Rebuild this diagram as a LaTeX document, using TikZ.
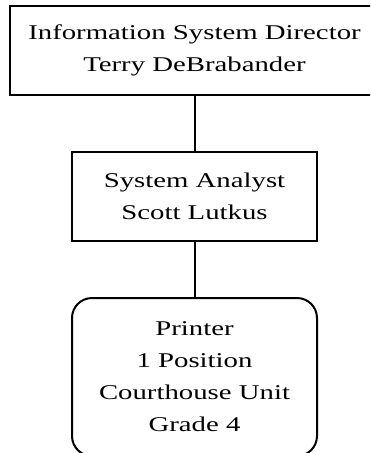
\documentclass[tikz,border=0pt]{standalone}
\usepackage{fontspec}
\setmainfont{Liberation Serif}[FakeStretch=1.37]
\usetikzlibrary{positioning}
\tikzset{>=latex}

\begin{document}
\begin{tikzpicture}[x=1pt, y=1pt, line width=2pt, node distance=55pt,
  post/.style={draw, rectangle, align=center, inner sep=0pt,
    font=\fontsize{21pt}{32pt}\selectfont},
  unit/.style={post, rounded corners=20pt}]
\clip (0,0) rectangle (370,-453);
\node[post, minimum width=369pt, minimum height=89pt] (director) at (194.5,-50.5)
  {Information System Director\\Terry DeBrabander};
\node[post, minimum width=245pt, minimum height=89pt, below=of director] (analyst)
  {System Analyst\\Scott Lutkus};
\node[unit, minimum width=245pt, minimum height=158pt, below=of analyst] (printer)
  {Printer\\1 Position\\Courthouse Unit\\Grade 4};
\draw (director) -- (analyst);
\draw (analyst) -- (printer);
\end{tikzpicture}
\end{document}
